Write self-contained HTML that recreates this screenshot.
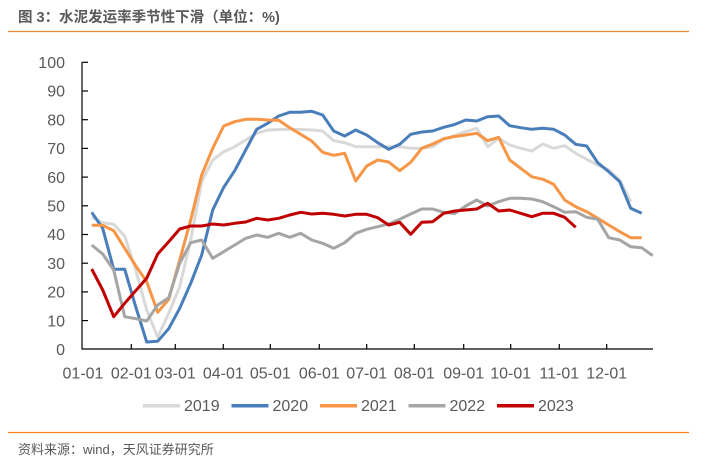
<!DOCTYPE html>
<html>
<head>
<meta charset="utf-8">
<style>
  html,body{margin:0;padding:0;background:#fff;}
  body{width:709px;height:459px;overflow:hidden;position:relative;}
  svg{position:absolute;left:0;top:0;}
</style>
</head>
<body>
<svg width="709" height="459" viewBox="0 0 709 459" xmlns="http://www.w3.org/2000/svg">
  <!-- Title -->
  <text x="18" y="22" font-family="'Liberation Sans','Noto Sans CJK SC',sans-serif" font-size="14.5" font-weight="bold" fill="#595959">图 3：水泥发运率季节性下滑（单位：%)</text>
  <line x1="8" y1="31.5" x2="689" y2="31.5" stroke="#e08a3c" stroke-width="1.3"/>

  <!-- Y axis -->
  <g stroke="#000" stroke-width="1.2" fill="none">
    <line x1="82" y1="62.3" x2="82" y2="349.5"/>
    <line x1="82" y1="62.3" x2="88" y2="62.3"/>
    <line x1="82" y1="91" x2="88" y2="91"/>
    <line x1="82" y1="119.7" x2="88" y2="119.7"/>
    <line x1="82" y1="148.4" x2="88" y2="148.4"/>
    <line x1="82" y1="177.1" x2="88" y2="177.1"/>
    <line x1="82" y1="205.8" x2="88" y2="205.8"/>
    <line x1="82" y1="234.5" x2="88" y2="234.5"/>
    <line x1="82" y1="263.2" x2="88" y2="263.2"/>
    <line x1="82" y1="291.9" x2="88" y2="291.9"/>
    <line x1="82" y1="320.6" x2="88" y2="320.6"/>
    <!-- X axis -->
    <line x1="81.5" y1="349" x2="653" y2="349"/>
    <line x1="131.3" y1="344" x2="131.3" y2="349"/>
    <line x1="175.3" y1="344" x2="175.3" y2="349"/>
    <line x1="223.3" y1="344" x2="223.3" y2="349"/>
    <line x1="270.3" y1="344" x2="270.3" y2="349"/>
    <line x1="319.3" y1="344" x2="319.3" y2="349"/>
    <line x1="366.7" y1="344" x2="366.7" y2="349"/>
    <line x1="414.3" y1="344" x2="414.3" y2="349"/>
    <line x1="463.7" y1="344" x2="463.7" y2="349"/>
    <line x1="510.7" y1="344" x2="510.7" y2="349"/>
    <line x1="559.3" y1="344" x2="559.3" y2="349"/>
    <line x1="606.7" y1="344" x2="606.7" y2="349"/>
  </g>

  <g font-family="'Liberation Sans',sans-serif" font-size="16" fill="#595959" text-anchor="end">
    <text x="65" y="68">100</text>
    <text x="65" y="96.7">90</text>
    <text x="65" y="125.4">80</text>
    <text x="65" y="154.1">70</text>
    <text x="65" y="182.8">60</text>
    <text x="65" y="211.5">50</text>
    <text x="65" y="240.2">40</text>
    <text x="65" y="268.9">30</text>
    <text x="65" y="297.6">20</text>
    <text x="65" y="326.3">10</text>
    <text x="65" y="355">0</text>
  </g>

  <g font-family="'Liberation Sans',sans-serif" font-size="16" fill="#595959" text-anchor="middle">
    <text x="83" y="378.3">01-01</text>
    <text x="131.3" y="378.3">02-01</text>
    <text x="175.3" y="378.3">03-01</text>
    <text x="223.3" y="378.3">04-01</text>
    <text x="270.3" y="378.3">05-01</text>
    <text x="319.3" y="378.3">06-01</text>
    <text x="366.7" y="378.3">07-01</text>
    <text x="414.3" y="378.3">08-01</text>
    <text x="463.7" y="378.3">09-01</text>
    <text x="510.7" y="378.3">10-01</text>
    <text x="559.3" y="378.3">11-01</text>
    <text x="606.7" y="378.3">12-01</text>
  </g>

  <!-- Series -->
  <g fill="none" stroke-width="3" stroke-linejoin="round" stroke-linecap="butt">
    <polyline stroke="#d9d9d9" points="91.7,217.3 102.7,222.7 113.7,224.3 124.7,236 135.7,270 146.7,310 157.7,337.3 168.7,313.3 179.7,286.7 190.7,240 201.7,181.7 212.7,160 223.7,151.7 234.7,146.7 245.7,140 256.7,133.3 267.7,130 278.7,129.5 289.7,129.3 300.7,129.5 311.7,130 322.7,131 333.7,140.7 344.7,142.7 355.7,146.7 366.7,146.7 377.7,146.7 388.7,146.7 399.7,146.7 410.7,148.3 421.7,148.3 432.7,146.7 443.7,139.3 454.7,135.5 465.7,131.7 476.7,128.3 487.7,146.7 498.7,138.3 509.7,145 520.7,148.3 531.7,151 542.7,144 553.7,148.3 564.7,145.7 575.7,153.3 586.7,159.3 597.7,165 608.7,170 619.7,180 630.7,201.7"/>
    <polyline stroke="#4a7ebb" points="91.7,212.3 102.7,228.3 113.7,269.3 124.7,269.3 135.7,306.7 146.7,342 157.7,341.3 168.7,328.7 179.7,308.3 190.7,283.3 201.7,255 212.7,210 223.7,187.3 234.7,170.7 245.7,150 256.7,129.3 267.7,123.3 278.7,116 289.7,112.3 300.7,112.3 311.7,111.3 322.7,115 333.7,131 344.7,136 355.7,130 366.7,135 377.7,142.7 388.7,149.3 399.7,144.3 410.7,134.3 421.7,132 432.7,131 443.7,127.3 454.7,124.5 465.7,120 476.7,121 487.7,116.7 498.7,116 509.7,125.7 520.7,127.7 531.7,129.3 542.7,128.3 553.7,129.3 564.7,135 575.7,144.3 586.7,146 597.7,162.7 608.7,171.7 619.7,181.7 630.7,208.3 641.7,213.3"/>
    <polyline stroke="#f79646" points="91.7,225.3 102.7,225.3 113.7,230.7 124.7,248.3 135.7,265.7 146.7,281.7 157.7,312.3 168.7,299.3 179.7,260 190.7,220 201.7,175 212.7,148.3 223.7,126 234.7,121.7 245.7,119.3 256.7,119.3 267.7,120 278.7,120.3 289.7,127.7 300.7,134.3 311.7,141 322.7,152.3 333.7,155.3 344.7,153.3 355.7,181 366.7,166 377.7,160 388.7,162 399.7,170.7 410.7,162.3 421.7,148.3 432.7,144 443.7,138.7 454.7,136.5 465.7,135 476.7,133.3 487.7,140.7 498.7,137.3 509.7,160 520.7,168.3 531.7,176.7 542.7,179.3 553.7,184.3 564.7,200 575.7,206.7 586.7,211.7 597.7,218.3 608.7,225 619.7,231.7 630.7,237.7 641.7,237.7"/>
    <polyline stroke="#a5a5a5" points="91.7,245 102.7,254 113.7,270 124.7,316.7 135.7,318.7 146.7,321 157.7,305 168.7,297.7 179.7,263.3 190.7,242.7 201.7,240 212.7,258.3 223.7,251.7 234.7,245 245.7,238.3 256.7,235 267.7,237.3 278.7,233.3 289.7,237.3 300.7,233.3 311.7,240 322.7,243.3 333.7,248.3 344.7,242.7 355.7,233.3 366.7,229.3 377.7,226.7 388.7,224 399.7,219.3 410.7,214 421.7,209 432.7,209 443.7,212.3 454.7,213.5 465.7,206 476.7,200 487.7,206 498.7,201.7 509.7,198.3 520.7,198.3 531.7,199 542.7,201.7 553.7,206.7 564.7,212.3 575.7,211.7 586.7,217.3 597.7,219.3 608.7,237.7 619.7,240 630.7,246.7 641.7,247.7 652.7,255.7"/>
    <polyline stroke="#c00000" points="91.7,269 102.7,290 113.7,316.7 124.7,303.3 135.7,290.7 146.7,278.3 157.7,254 168.7,241.7 179.7,229 190.7,226 201.7,226 212.7,224 223.7,225 234.7,223.3 245.7,222 256.7,218.3 267.7,220 278.7,218.3 289.7,215 300.7,212.3 311.7,214 322.7,213.3 333.7,214.3 344.7,216 355.7,214.3 366.7,214.3 377.7,217.7 388.7,225 399.7,222.3 410.7,234.3 421.7,222.3 432.7,221.7 443.7,213.3 454.7,211 465.7,210 476.7,209 487.7,203.3 498.7,211 509.7,210 520.7,213.3 531.7,216.7 542.7,213.3 553.7,213.3 564.7,217.3 575.7,227.3"/>
  </g>

  <!-- Legend -->
  <g stroke-width="3.5">
    <line x1="143" y1="405.7" x2="180" y2="405.7" stroke="#d9d9d9"/>
    <line x1="231.5" y1="405.7" x2="268.5" y2="405.7" stroke="#4a7ebb"/>
    <line x1="320" y1="405.7" x2="357" y2="405.7" stroke="#f79646"/>
    <line x1="408.5" y1="405.7" x2="445.5" y2="405.7" stroke="#a5a5a5"/>
    <line x1="497" y1="405.7" x2="534" y2="405.7" stroke="#c00000"/>
  </g>
  <g font-family="'Liberation Sans',sans-serif" font-size="16" fill="#595959">
    <text x="184" y="411.2">2019</text>
    <text x="272.5" y="411.2">2020</text>
    <text x="361" y="411.2">2021</text>
    <text x="449.5" y="411.2">2022</text>
    <text x="538" y="411.2">2023</text>
  </g>

  <!-- Footer -->
  <line x1="8" y1="432.5" x2="689" y2="432.5" stroke="#f5821f" stroke-width="1.3"/>
  <text x="18" y="454" font-family="'Liberation Sans','Noto Sans CJK SC',sans-serif" font-size="13" fill="#595959">资料来源：wind，天风证券研究所</text>
</svg>
</body>
</html>
